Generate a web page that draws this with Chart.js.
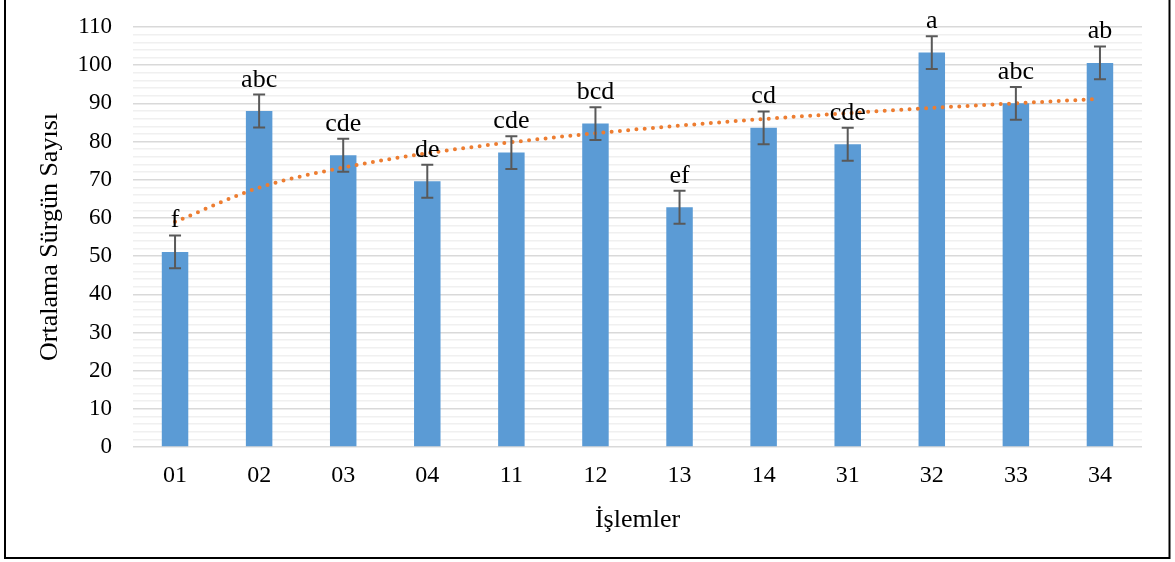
<!DOCTYPE html>
<html lang="tr">
<head>
<meta charset="utf-8">
<title>Ortalama Sürgün Sayısı</title>
<script src="https://cdn.jsdelivr.net/npm/chart.js@4.4.1/dist/chart.umd.min.js"></script>
<style>
  html, body { margin: 0; padding: 0; background: #ffffff; }
  #wrap { position: relative; width: 1175px; height: 562px; }
</style>
</head>
<body>
<div id="wrap"><canvas id="chart"></canvas></div>
<script>
// Treatment codes on the x axis
const categories = ['01', '02', '03', '04', '11', '12', '13', '14', '31', '32', '33', '34'];
// Mean shoot count per treatment
const means = [51.1, 88.0, 76.4, 69.6, 77.1, 84.7, 62.8, 83.6, 79.3, 103.3, 90.0, 100.6];
// Error bar half-lengths
const errors = [4.3, 4.3, 4.3, 4.3, 4.3, 4.3, 4.3, 4.3, 4.3, 4.3, 4.3, 4.3];
// Significance group letters above each bar
const letters = ['f', 'abc', 'cde', 'de', 'cde', 'bcd', 'ef', 'cd', 'cde', 'a', 'abc', 'ab'];

// Logarithmic trend line (least squares of mean vs ln(index))
function logFit(ys) {
  const n = ys.length;
  const xs = ys.map((_, i) => Math.log(i + 1));
  const mx = xs.reduce((a, b) => a + b, 0) / n;
  const my = ys.reduce((a, b) => a + b, 0) / n;
  let sxy = 0, sxx = 0;
  for (let i = 0; i < n; i++) {
    sxy += (xs[i] - mx) * (ys[i] - my);
    sxx += (xs[i] - mx) * (xs[i] - mx);
  }
  const a = sxy / sxx;
  const b = my - a * mx;
  return xs.map(x => a * x + b);
}
const trend = logFit(means);

const SERIF = "'Liberation Serif', 'Times New Roman', serif";

// Frame around the figure
const framePlugin = {
  id: 'frame',
  beforeDraw(chart) {
    const ctx = chart.ctx;
    ctx.save();
    ctx.fillStyle = '#ffffff';
    ctx.fillRect(0, 0, chart.width, chart.height);
    ctx.strokeStyle = '#000000';
    ctx.lineWidth = 2;
    ctx.beginPath();
    ctx.moveTo(5, -2);
    ctx.lineTo(5, 558);
    ctx.lineTo(1169.5, 558);
    ctx.lineTo(1169.5, -2);
    ctx.stroke();
    ctx.restore();
  }
};

// Error bars and group letters drawn from the bar dataset
const errorPlugin = {
  id: 'errorBars',
  afterDatasetsDraw(chart) {
    const ctx = chart.ctx;
    const y = chart.scales.y;
    const meta = chart.getDatasetMeta(0);
    ctx.save();
    ctx.strokeStyle = '#595959';
    ctx.lineWidth = 2;
    meta.data.forEach((bar, i) => {
      const x = bar.x;
      const top = y.getPixelForValue(means[i] + errors[i]);
      const bot = y.getPixelForValue(means[i] - errors[i]);
      ctx.beginPath();
      ctx.moveTo(x, top);
      ctx.lineTo(x, bot);
      ctx.moveTo(x - 6, top);
      ctx.lineTo(x + 6, top);
      ctx.moveTo(x - 6, bot);
      ctx.lineTo(x + 6, bot);
      ctx.stroke();
    });
    ctx.fillStyle = '#000000';
    ctx.font = '26px ' + SERIF;
    ctx.textAlign = 'center';
    ctx.textBaseline = 'alphabetic';
    meta.data.forEach((bar, i) => {
      const top = y.getPixelForValue(means[i] + errors[i]);
      ctx.fillText(letters[i], bar.x, top - 8);
    });
    ctx.restore();
  }
};

new Chart(document.getElementById('chart'), {
  data: {
    labels: categories,
    datasets: [
      {
        type: 'bar',
        data: means,
        backgroundColor: '#5B9BD5',
        borderWidth: 0,
        barPercentage: 0.315,
        categoryPercentage: 1.0,
        order: 2
      },
      {
        type: 'line',
        data: trend,
        borderColor: '#ED7D31',
        borderWidth: 4,
        borderDash: [0, 8.3],
        borderCapStyle: 'round',
        pointRadius: 0,
        fill: false,
        cubicInterpolationMode: 'monotone',
        order: 1
      }
    ]
  },
  options: {
    responsive: true,
    maintainAspectRatio: false,
    animation: false,
    devicePixelRatio: 1,
    layout: { padding: { left: 0, right: 33, top: 27, bottom: 0 } },
    plugins: {
      legend: { display: false },
      tooltip: { enabled: false }
    },
    scales: {
      x: {
        grid: { display: false, drawTicks: false },
        border: { display: false },
        ticks: {
          color: '#000000',
          font: { family: SERIF, size: 24 },
          padding: 14,
          maxRotation: 0
        },
        title: {
          display: true,
          text: 'İşlemler',
          color: '#000000',
          font: { family: SERIF, size: 26 },
          padding: { top: 0, bottom: 26 }
        },
        afterFit(s) { s.height = 115; }
      },
      y: {
        min: 0,
        max: 110,
        grid: {
          drawTicks: false,
          color: c => (c.tick && c.tick.value % 10 === 0) ? '#d9d9d9' : '#f0f0f0',
          lineWidth: 1.5
        },
        border: { display: false },
        ticks: {
          stepSize: 2,
          autoSkip: false,
          color: '#000000',
          font: { family: SERIF, size: 23 },
          padding: 21,
          callback: v => (v % 10 === 0 ? String(v) : '')
        },
        title: {
          display: true,
          text: 'Ortalama Sürgün Sayısı',
          color: '#000000',
          font: { family: SERIF, size: 26 },
          padding: { top: 35, bottom: 0 }
        },
        afterFit(s) {
          s.width = 133;
          s.paddingTop = 0;
          s.paddingBottom = 0;
        }
      }
    }
  },
  plugins: [framePlugin, errorPlugin]
});
</script>
</body>
</html>
